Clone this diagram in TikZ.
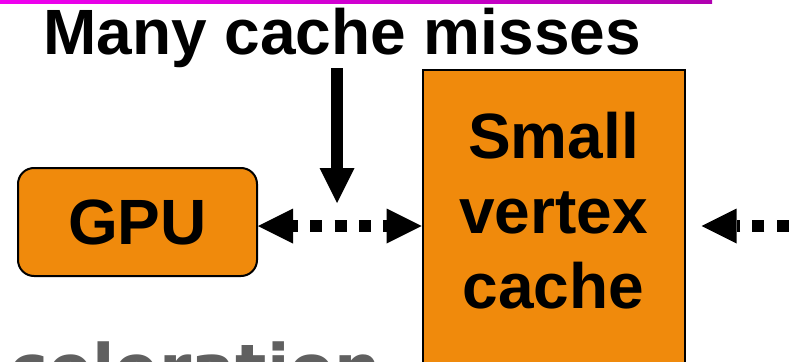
\documentclass[tikz,border=0pt]{standalone}
\usepackage{fontspec}
\setmainfont{Liberation Sans}
\newfontfamily\sansheavy{DejaVu Sans}
\usetikzlibrary{arrows.meta}
\definecolor{boxorange}{RGB}{240,138,12}
\definecolor{barleft}{RGB}{240,0,240}
\definecolor{barright}{RGB}{176,0,176}
\definecolor{subgray}{RGB}{96,96,96}
\begin{document}
\begin{tikzpicture}[x=1pt,y=-1pt,
  bigtext/.style={font=\bfseries\fontsize{64}{75}\selectfont},
  unit/.style={draw=black, line width=2pt, fill=boxorange, inner sep=0pt},
  thick link/.style={line width=12pt},
  dotted link/.style={line width=12pt, dash pattern=on 12pt off 12.3pt},
  bighead/.tip={Triangle[length=35pt,width=35pt,line width=0pt]}]
  \useasboundingbox (0,0) rectangle (791,361);
  \clip (0,0) rectangle (791,361);

  % title bar
  \shade[left color=barleft, right color=barright] (0,0) rectangle (712,3.5);

  % labels
  \node[bigtext, anchor=base west, inner sep=0pt] (title) at (43,55) {Many cache misses};
  \node[font=\sansheavy\bfseries\fontsize{65.5}{75}\selectfont, text=subgray,
        anchor=base west, inner sep=0pt] (accel) at (9,391.5) {celeration};

  % blocks
  \node[unit, rounded corners=16pt, minimum width=239pt, minimum height=108pt, bigtext]
    (gpu) at (137.5,222) {GPU};
  \node[unit, minimum width=262pt, text height=88pt, text depth=212pt,
        anchor=north, bigtext] (cache) at (553.5,69)
    {\begin{tabular}[t]{@{}c@{}}Small\\vertex\\cache\end{tabular}};

  % connector row and free ends
  \coordinate (row) at (0,226);
  \coordinate (offright) at (813,226);
  \coordinate (misstip) at (337,203);

  \draw[thick link, -bighead] (title.south -| misstip) -- (misstip);
  \draw[dotted link, dash phase=7pt, bighead-bighead] (gpu.east |- row) -- (cache.west |- row);
  \draw[dotted link, -bighead, shorten >=16pt] (offright) -- (cache.east |- row);
\end{tikzpicture}
\end{document}
